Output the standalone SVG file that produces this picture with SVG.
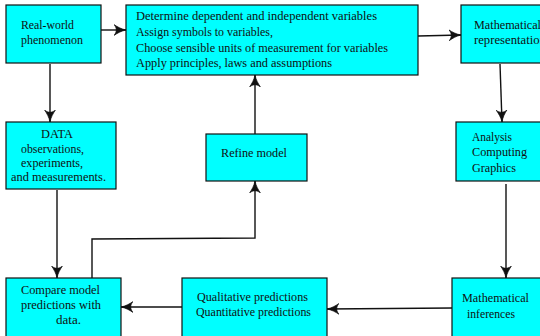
<svg xmlns="http://www.w3.org/2000/svg" width="540" height="336" viewBox="0 0 540 336">
<style>
.box{fill:#00ffff;stroke:#111;stroke-width:1.2}
text{font-family:"Liberation Serif","DejaVu Serif",serif;font-size:11.8px;fill:#111}
.e{fill:none;stroke:#111;stroke-width:1.4}
</style>
<defs>
<marker id="ah" viewBox="0 0 10 10" refX="10" refY="5" markerWidth="12" markerHeight="12" orient="auto" markerUnits="userSpaceOnUse">
<path d="M0,0.5 C3,2.5 6,4.2 10,5 C6,5.8 3,7.5 0,9.5 C2.5,7 2.5,3 0,0.5 z" fill="#111" stroke="#111" stroke-width="0.6"/>
</marker>
</defs>
<g id="connectors">
<line class="e" x1="101" y1="30" x2="126" y2="30" marker-end="url(#ah)"/>
<line class="e" x1="418" y1="36" x2="461" y2="35" marker-end="url(#ah)"/>
<line class="e" x1="50" y1="64" x2="50" y2="122" marker-end="url(#ah)"/>
<line class="e" x1="500" y1="64" x2="502" y2="122" marker-end="url(#ah)"/>
<line class="e" x1="255" y1="134" x2="255" y2="75" marker-end="url(#ah)"/>
<line class="e" x1="57" y1="190" x2="57" y2="278" marker-end="url(#ah)"/>
<line class="e" x1="506" y1="184" x2="506" y2="278" marker-end="url(#ah)"/>
<line class="e" x1="452" y1="308" x2="327" y2="309" marker-end="url(#ah)"/>
<line class="e" x1="182" y1="307" x2="121" y2="307" marker-end="url(#ah)"/>
<polyline class="e" points="92,278 92,239 255,238 255,181" marker-end="url(#ah)"/>
</g>
<g id="n-realworld">
<rect class="box" x="6" y="5" width="95" height="58"/>
<text x="21" y="29" textLength="53" lengthAdjust="spacingAndGlyphs">Real-world</text>
<text x="21" y="44" textLength="62" lengthAdjust="spacingAndGlyphs">phenomenon</text>
</g>
<g id="n-determine">
<rect class="box" x="126" y="5" width="292" height="70"/>
<text x="136" y="20" textLength="241" lengthAdjust="spacingAndGlyphs">Determine dependent and independent variables</text>
<text x="136" y="36" textLength="137" lengthAdjust="spacingAndGlyphs">Assign symbols to variables,</text>
<text x="136" y="52" textLength="252" lengthAdjust="spacingAndGlyphs">Choose sensible units of measurement for variables</text>
<text x="136" y="67" textLength="196" lengthAdjust="spacingAndGlyphs">Apply principles, laws and assumptions</text>
</g>
<g id="n-mathrep">
<rect class="box" x="461" y="5" width="90" height="58"/>
<text x="474" y="29" textLength="67" lengthAdjust="spacingAndGlyphs">Mathematical</text>
<text x="474" y="44" textLength="72" lengthAdjust="spacingAndGlyphs">representation</text>
</g>
<g id="n-data">
<rect class="box" x="6" y="122" width="110" height="67"/>
<text x="41" y="138" textLength="32" lengthAdjust="spacingAndGlyphs">DATA</text>
<text x="21" y="153" textLength="63" lengthAdjust="spacingAndGlyphs">observations,</text>
<text x="21" y="167" textLength="62" lengthAdjust="spacingAndGlyphs">experiments,</text>
<text x="11" y="181" textLength="95" lengthAdjust="spacingAndGlyphs">and measurements.</text>
</g>
<g id="n-refine">
<rect class="box" x="206" y="134" width="101" height="47"/>
<text x="221" y="157" textLength="66" lengthAdjust="spacingAndGlyphs">Refine model</text>
</g>
<g id="n-analysis">
<rect class="box" x="456" y="122" width="95" height="59"/>
<text x="472" y="141" textLength="40" lengthAdjust="spacingAndGlyphs">Analysis</text>
<text x="472" y="156" textLength="55" lengthAdjust="spacingAndGlyphs">Computing</text>
<text x="472" y="172" textLength="44" lengthAdjust="spacingAndGlyphs">Graphics</text>
</g>
<g id="n-inferences">
<rect class="box" x="452" y="278" width="99" height="70"/>
<text x="462" y="302" textLength="67" lengthAdjust="spacingAndGlyphs">Mathematical</text>
<text x="467" y="318" textLength="48" lengthAdjust="spacingAndGlyphs">inferences</text>
</g>
<g id="n-predictions">
<rect class="box" x="182" y="278" width="145" height="70"/>
<text x="197" y="301" textLength="111" lengthAdjust="spacingAndGlyphs">Qualitative predictions</text>
<text x="196" y="316" textLength="115" lengthAdjust="spacingAndGlyphs">Quantitative predictions</text>
</g>
<g id="n-compare">
<rect class="box" x="6" y="278" width="115" height="70"/>
<text x="21" y="294" textLength="79" lengthAdjust="spacingAndGlyphs">Compare model</text>
<text x="21" y="309" textLength="80" lengthAdjust="spacingAndGlyphs">predictions with</text>
<text x="56" y="324" textLength="25" lengthAdjust="spacingAndGlyphs">data.</text>
</g>
</svg>
